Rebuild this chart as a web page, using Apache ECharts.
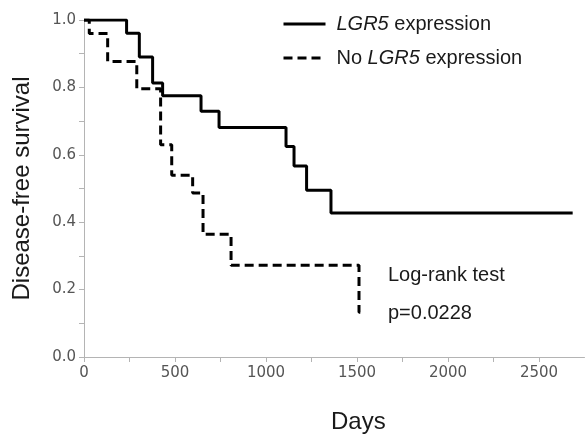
<!DOCTYPE html>
<html>
<head>
<meta charset="utf-8">
<script src="https://cdn.jsdelivr.net/npm/echarts@6/dist/echarts.min.js"></script>
<style>
  html, body { margin: 0; padding: 0; background: #fff; }
  #chart { width: 585px; height: 435px; }
</style>
</head>
<body>
<div id="chart"></div>
<script>
// Kaplan-Meier steps: [day, survival]
const lgr5Steps = [
  [0, 1.0], [234, 0.961], [304, 0.89], [377, 0.813], [432, 0.775],
  [643, 0.729], [742, 0.681], [1110, 0.625], [1154, 0.567],
  [1223, 0.495], [1357, 0.427], [2685, 0.427]
]
const noLgr5Steps = [
  [0, 1.0], [29, 0.96], [130, 0.877], [290, 0.796], [421, 0.63],
  [482, 0.539], [597, 0.487], [654, 0.364], [808, 0.272],
  [1511, 0.133], [1518, 0.133]
]
const seriesNames = ['LGR5 expression', 'No LGR5 expression']
const xTickLabels = [0, 500, 1000, 1500, 2000, 2500]
const yTickLabels = [0.0, 0.2, 0.4, 0.6, 0.8, 1.0]
const annotation = ['Log-rank test', 'p=0.0228']

const tickFont = { color: '#555', fontSize: 15, fontFamily: 'DejaVu Sans' }
const textFont = 'Liberation Sans'
const axisGray = '#b4b4b4'

const chart = echarts.init(document.getElementById('chart'))

chart.setOption({
  animation: false,
  backgroundColor: '#fff',
  grid: { left: 84, right: 0.5, top: 20, bottom: 78, containLabel: false },
  title: {
    text: 'Days',
    left: 326,
    top: 405,
    textStyle: { fontFamily: textFont, fontSize: 24, fontWeight: 'normal', color: '#1a1a1a' }
  },
  legend: {
    orient: 'vertical',
    left: 277,
    top: 9,
    itemWidth: 42,
    itemHeight: 20,
    itemGap: 14,
    itemStyle: { opacity: 0 },
    lineStyle: { width: 3 },
    data: seriesNames,
    formatter: (name) => name.replace('LGR5', '{i|LGR5}'),
    textStyle: {
      fontFamily: textFont,
      fontSize: 20,
      color: '#1a1a1a',
      padding: [0, 0, 0, 6],
      rich: {
        i: { fontFamily: textFont, fontSize: 20, fontStyle: 'italic', color: '#1a1a1a' }
      }
    }
  },
  xAxis: {
    type: 'value',
    min: 0,
    max: 2750,
    interval: 250,
    axisLine: { lineStyle: { color: axisGray, width: 1 } },
    axisTick: { show: true, length: 5, lineStyle: { color: axisGray } },
    splitLine: { show: false },
    axisLabel: {
      ...tickFont,
      margin: 9,
      showMaxLabel: false,
      formatter: (v) => (xTickLabels.includes(v) ? String(v) : '')
    }
  },
  yAxis: {
    type: 'value',
    min: 0,
    max: 1.0,
    interval: 0.1,
    name: 'Disease-free survival',
    nameLocation: 'middle',
    nameGap: 50,
    nameTextStyle: { fontFamily: textFont, fontSize: 24, color: '#1a1a1a' },
    axisLine: { show: true, lineStyle: { color: axisGray, width: 1 } },
    axisTick: { show: true, length: 5, lineStyle: { color: axisGray } },
    splitLine: { show: false },
    axisLabel: {
      ...tickFont,
      margin: 8,
      formatter: (v) => {
        const r = Math.round(v * 10) / 10
        return yTickLabels.some((t) => Math.abs(t - r) < 1e-9) && Math.abs(v - r) < 1e-6 ? r.toFixed(1) : ''
      }
    }
  },
  graphic: annotation.map((t, i) => ({
    type: 'text',
    left: 388,
    top: 265 + i * 38,
    style: { text: t, fontFamily: textFont, fontSize: 20, fill: '#1a1a1a' }
  })),
  series: [
    {
      name: seriesNames[0],
      type: 'line',
      step: 'end',
      symbol: 'none',
      data: lgr5Steps,
      lineStyle: { color: '#000', width: 3 },
      itemStyle: { color: '#000' }
    },
    {
      name: seriesNames[1],
      type: 'line',
      step: 'end',
      symbol: 'none',
      data: noLgr5Steps,
      lineStyle: { color: '#000', width: 3, type: [9, 5] },
      itemStyle: { color: '#000' }
    }
  ]
})
</script>
</body>
</html>
